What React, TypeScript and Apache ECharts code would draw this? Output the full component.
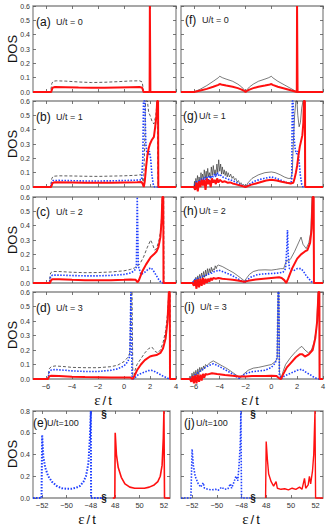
import React, { useEffect, useRef } from 'react';
import * as echarts from 'echarts';

// ---------- data (epsilon/t , DOS) ----------
const xTicks = [-6, -4, -2, 0, 2, 4];
const brokenTicks = [-52, -50, -48, 48, 50, 52];

const aBlack = [[-7,0],[-5.65,0],[-5.55,0.06],[-5.45,0.075],[-5.2,0.078],[-4.5,0.076],[-3.5,0.07],[-2.5,0.066],[-1.5,0.068],[-0.5,0.072],[0.5,0.077],[1.2,0.078],[1.4,0.07],[1.48,0.02],[1.52,0],[4,0]];
const aRed = [[-7,0],[-5.6,0],[-5.5,0.03],[-5.3,0.035],[-4.5,0.034],[-3.5,0.031],[-2.5,0.029],[-1.5,0.03],[-0.5,0.032],[0.5,0.034],[1.2,0.035],[1.4,0.03],[1.5,0],[1.97,0],[1.99,0.6],[2.01,0.6],[2.03,0],[4,0]];

const bBlack = [[-7,0],[-5.65,0],[-5.55,0.06],[-5.45,0.075],[-5,0.078],[-4,0.077],[-3,0.075],[-2,0.074],[-1,0.076],[0,0.078],[1,0.082],[1.3,0.086],[1.42,0.06],[1.5,0],[1.58,0.25],[1.66,0.6],[1.8,0.6],[1.9,0.52],[2.0,0.5],[2.15,0.46],[2.3,0.44],[2.45,0.5],[2.55,0.6],[2.62,0],[4,0]];
const bBlue = [[-7,0],[-5.65,0],[-5.55,0.035],[-5.45,0.045],[-5,0.046],[-4,0.044],[-3,0.042],[-2,0.042],[-1,0.043],[0,0.045],[1,0.048],[1.35,0.05],[1.45,0.2],[1.5,0.6],[1.6,0.6],[1.68,0.3],[1.76,0.24],[1.85,0.22],[1.95,0.25],[2.05,0.2],[2.15,0.08],[2.25,0.02],[2.35,0],[4,0]];
const bRed = [[-7,0],[-5.6,0],[-5.5,0.028],[-5.3,0.033],[-4,0.031],[-3,0.029],[-2,0.029],[-1,0.03],[0,0.032],[1,0.034],[1.35,0.035],[1.45,0.02],[1.52,0],[1.6,0.04],[1.7,0.14],[1.8,0.22],[1.9,0.27],[2.0,0.3],[2.15,0.33],[2.3,0.35],[2.4,0.42],[2.5,0.5],[2.55,0.6],[2.62,0.6],[2.64,0],[4,0]];

const cBlack = [[-7,0],[-5.75,0],[-5.65,0.07],[-5.5,0.08],[-5,0.08],[-4,0.075],[-3,0.072],[-2,0.073],[-1,0.077],[0,0.085],[0.5,0.095],[0.8,0.105],[1.0,0.12],[1.2,0.13],[1.5,0.18],[1.8,0.25],[2.05,0.3],[2.2,0.27],[2.35,0.23],[2.5,0.24],[2.7,0.3],[2.85,0.38],[2.95,0.6],[3.05,0.6],[3.07,0],[4,0]];
const cBlue = [[-7,0],[-5.75,0],[-5.65,0.045],[-5.5,0.055],[-5,0.055],[-4,0.052],[-3,0.05],[-2,0.05],[-1,0.053],[0,0.06],[0.5,0.07],[0.8,0.085],[0.95,0.11],[1.02,0.6],[1.06,0.6],[1.1,0.12],[1.3,0.06],[1.6,0.075],[1.9,0.1],[2.1,0.105],[2.3,0.08],[2.5,0.05],[2.7,0.02],[2.9,0],[4,0]];
const cRed = [[-7,0],[-5.7,0],[-5.6,0.02],[-5.5,0.027],[-5,0.027],[-4,0.022],[-3,0.02],[-2,0.019],[-1,0.02],[0,0.022],[0.5,0.024],[0.9,0.022],[1.05,0.005],[1.15,0.02],[1.4,0.08],[1.7,0.13],[2.05,0.18],[2.3,0.2],[2.5,0.22],[2.65,0.25],[2.8,0.32],[2.9,0.45],[2.95,0.6],[3.02,0.6],[3.04,0],[4,0]];

const dBlack = [[-7,0],[-5.85,0],[-5.75,0.07],[-5.6,0.085],[-5.3,0.09],[-4.5,0.085],[-4,0.08],[-3,0.078],[-2,0.078],[-1,0.085],[-0.5,0.095],[0,0.12],[0.3,0.15],[0.45,0.18],[0.55,0.6],[0.62,0.6],[0.68,0.02],[0.75,0],[0.85,0.06],[1.0,0.1],[1.3,0.14],[1.6,0.18],[1.9,0.21],[2.15,0.22],[2.4,0.19],[2.6,0.18],[2.8,0.2],[3.0,0.25],[3.2,0.33],[3.35,0.45],[3.45,0.6],[3.55,0.6],[3.57,0],[4,0]];
const dBlue = [[-7,0],[-5.85,0],[-5.75,0.05],[-5.6,0.062],[-5.3,0.065],[-4.5,0.06],[-4,0.056],[-3,0.052],[-2,0.052],[-1,0.06],[-0.5,0.07],[0,0.09],[0.3,0.12],[0.45,0.16],[0.53,0.6],[0.58,0.6],[0.62,0.02],[0.7,0],[0.85,0.01],[1.1,0.03],[1.5,0.045],[1.9,0.058],[2.1,0.06],[2.4,0.05],[2.7,0.035],[3.0,0.02],[3.3,0.008],[3.5,0],[4,0]];
const dRed = [[-7,0],[-5.85,0],[-5.75,0.018],[-5.6,0.022],[-5,0.02],[-4,0.016],[-3,0.013],[-2,0.012],[-1,0.01],[0,0.01],[0.5,0.01],[0.65,0],[0.8,0.02],[1.0,0.06],[1.3,0.1],[1.6,0.13],[2.0,0.155],[2.2,0.16],[2.5,0.165],[2.8,0.18],[3.0,0.21],[3.2,0.28],[3.35,0.4],[3.45,0.6],[3.52,0.6],[3.54,0],[4,0]];

const fBlack = [[-7,0],[-6,0],[-5.5,0.02],[-5,0.045],[-4.5,0.075],[-4.1,0.1],[-4,0.11],[-3.8,0.1],[-3.5,0.09],[-3,0.075],[-2.6,0.055],[-2.3,0.035],[-2.1,0.015],[-2,0],[-1.9,0.015],[-1.7,0.035],[-1.4,0.055],[-1,0.075],[-0.5,0.09],[-0.2,0.1],[0,0.11],[0.1,0.1],[0.5,0.075],[1,0.05],[1.5,0.025],[2,0],[4,0]];
const fRed = [[-7,0],[-6,0],[-5.5,0.01],[-5,0.022],[-4.5,0.037],[-4.1,0.05],[-4,0.056],[-3.8,0.05],[-3.5,0.045],[-3,0.037],[-2.6,0.027],[-2.3,0.017],[-2.1,0.007],[-2,0],[-1.9,0.007],[-1.7,0.017],[-1.4,0.027],[-1,0.037],[-0.5,0.045],[-0.2,0.05],[0,0.056],[0.1,0.05],[0.5,0.037],[1,0.025],[1.5,0.012],[1.97,0],[1.99,0.6],[2.01,0.6],[2.03,0],[4,0]];

const gBlack = [[-7,0],[-6.0,0],[-5.95,0.04],[-5.9,-0.01],[-5.85,0.06],[-5.8,0.01],[-5.72,0.08],[-5.65,0.02],[-5.6,0.07],[-5.52,0.03],[-5.45,0.1],[-5.4,0.04],[-5.33,0.09],[-5.25,0.05],[-5.2,0.12],[-5.12,0.06],[-5.05,0.11],[-5.0,0.05],[-4.93,0.13],[-4.86,0.07],[-4.8,0.1],[-4.72,0.06],[-4.65,0.14],[-4.58,0.08],[-4.5,0.15],[-4.43,0.09],[-4.36,0.12],[-4.3,0.08],[-4.22,0.16],[-4.15,0.1],[-4.08,0.19],[-4.0,0.11],[-3.93,0.16],[-3.86,0.09],[-3.8,0.14],[-3.72,0.09],[-3.65,0.12],[-3.58,0.08],[-3.5,0.11],[-3.42,0.07],[-3.35,0.1],[-3.25,0.07],[-3.15,0.09],[-3.05,0.06],[-2.95,0.075],[-2.85,0.05],[-2.75,0.06],[-2.65,0.035],[-2.55,0.045],[-2.45,0.02],[-2.35,0.03],[-2.25,0.012],[-2.15,0.018],[-2.0,0],[-1.8,0.03],[-1.5,0.06],[-1.0,0.085],[-0.5,0.1],[0,0.105],[0.3,0.1],[0.7,0.085],[1.0,0.07],[1.3,0.06],[1.5,0.06],[1.62,0.1],[1.7,0.3],[1.8,0.5],[1.9,0.6],[1.98,0.6],[2.05,0.5],[2.15,0.42],[2.25,0.45],[2.35,0.55],[2.45,0.6],[2.55,0.6],[2.6,0],[4,0]];
const gBlue = [[-7,0],[-6.0,0],[-5.9,0.02],[-5.8,0.04],[-5.7,0.02],[-5.6,0.05],[-5.5,0.03],[-5.4,0.06],[-5.3,0.04],[-5.2,0.07],[-5.1,0.05],[-5.0,0.07],[-4.9,0.05],[-4.8,0.08],[-4.7,0.06],[-4.6,0.08],[-4.5,0.07],[-4.4,0.09],[-4.3,0.07],[-4.2,0.1],[-4.1,0.08],[-4.0,0.09],[-3.8,0.07],[-3.6,0.065],[-3.4,0.055],[-3.2,0.05],[-3.0,0.045],[-2.8,0.035],[-2.6,0.025],[-2.4,0.015],[-2.2,0.008],[-2.0,0],[-1.7,0.02],[-1.3,0.04],[-0.8,0.055],[-0.3,0.065],[0,0.07],[0.4,0.06],[0.8,0.045],[1.2,0.03],[1.5,0.025],[1.58,0.05],[1.62,0.6],[1.68,0.6],[1.75,0.35],[1.85,0.26],[1.95,0.23],[2.05,0.25],[2.15,0.18],[2.25,0.08],[2.35,0.02],[2.45,0],[4,0]];
const gRed = [[-7,0],[-6.0,0],[-5.9,-0.02],[-5.8,0.03],[-5.7,-0.03],[-5.6,0.04],[-5.5,0],[-5.4,0.05],[-5.3,0.01],[-5.2,0.05],[-5.1,-0.02],[-5.0,0.06],[-4.9,0.02],[-4.8,0.05],[-4.7,0],[-4.6,0.06],[-4.5,0.03],[-4.4,0.05],[-4.3,0.02],[-4.2,0.06],[-4.1,0.03],[-4.0,0.05],[-3.8,0.035],[-3.6,0.04],[-3.4,0.03],[-3.2,0.032],[-3.0,0.025],[-2.8,0.02],[-2.6,0.015],[-2.4,0.01],[-2.2,0.005],[-2.0,0],[-1.6,0.015],[-1.2,0.025],[-0.8,0.035],[-0.4,0.045],[0,0.05],[0.4,0.045],[0.8,0.037],[1.2,0.03],[1.5,0.025],[1.7,0.03],[1.8,0.06],[1.9,0.1],[2.0,0.15],[2.1,0.22],[2.2,0.28],[2.3,0.32],[2.4,0.36],[2.48,0.45],[2.52,0.6],[2.6,0.6],[2.62,0],[4,0]];

const hBlack = [[-7,0],[-6.1,0],[-6.0,0.02],[-5.93,0],[-5.85,0.04],[-5.78,0.01],[-5.7,0.05],[-5.62,0.02],[-5.55,0.06],[-5.47,0.03],[-5.4,0.07],[-5.32,0.03],[-5.25,0.08],[-5.17,0.04],[-5.1,0.09],[-5.02,0.05],[-4.95,0.1],[-4.87,0.06],[-4.8,0.1],[-4.72,0.07],[-4.65,0.11],[-4.57,0.08],[-4.5,0.1],[-4.42,0.09],[-4.35,0.12],[-4.27,0.1],[-4.2,0.12],[-4.1,0.125],[-3.8,0.115],[-3.5,0.1],[-3.2,0.085],[-2.9,0.07],[-2.6,0.05],[-2.3,0.03],[-2.1,0.015],[-1.95,0.03],[-1.7,0.06],[-1.4,0.08],[-1.0,0.09],[-0.5,0.092],[0,0.09],[0.4,0.095],[0.7,0.1],[0.95,0.1],[1.1,0.14],[1.2,0.16],[1.3,0.15],[1.5,0.17],[1.8,0.22],[2.1,0.28],[2.3,0.32],[2.45,0.27],[2.7,0.24],[2.9,0.28],[3.05,0.35],[3.15,0.6],[3.25,0.6],[3.27,0],[4,0]];
const hBlue = [[-7,0],[-6.1,0],[-6.0,0.02],[-5.8,0.03],[-5.6,0.035],[-5.4,0.045],[-5.2,0.05],[-5.0,0.055],[-4.8,0.065],[-4.6,0.07],[-4.4,0.08],[-4.2,0.085],[-4.1,0.09],[-3.8,0.08],[-3.5,0.07],[-3.2,0.06],[-2.9,0.045],[-2.6,0.03],[-2.3,0.015],[-2.1,0.005],[-1.9,0.02],[-1.6,0.04],[-1.2,0.055],[-0.8,0.062],[-0.3,0.065],[0.2,0.067],[0.6,0.07],[0.9,0.075],[1.1,0.1],[1.2,0.25],[1.25,0.37],[1.3,0.2],[1.4,0.1],[1.7,0.085],[2.0,0.1],[2.3,0.1],[2.5,0.08],[2.7,0.05],[2.9,0.03],[3.1,0.01],[3.25,0],[4,0]];
const hRed = [[-7,0],[-6.1,0],[-6.0,-0.02],[-5.9,0.02],[-5.8,-0.04],[-5.7,0.025],[-5.6,-0.03],[-5.5,0.03],[-5.4,-0.02],[-5.3,0.035],[-5.2,-0.01],[-5.1,0.03],[-5.0,0],[-4.9,0.03],[-4.8,0.01],[-4.7,0.035],[-4.6,0.02],[-4.5,0.035],[-4.3,0.03],[-4.1,0.035],[-3.8,0.03],[-3.5,0.027],[-3.0,0.022],[-2.5,0.015],[-2.1,0.008],[-1.8,0.015],[-1.2,0.025],[-0.6,0.03],[0,0.035],[0.6,0.04],[0.8,0.035],[1.0,0.02],[1.15,0],[1.3,0.03],[1.6,0.1],[2.0,0.17],[2.3,0.2],[2.6,0.22],[2.8,0.23],[3.0,0.28],[3.12,0.38],[3.2,0.6],[3.28,0.6],[3.3,0],[4,0]];

const iBlack = [[-7,0],[-6.4,0],[-6.3,0.02],[-6.22,0],[-6.15,0.04],[-6.07,0.01],[-6.0,0.05],[-5.92,0.02],[-5.85,0.06],[-5.77,0.02],[-5.7,0.07],[-5.62,0.03],[-5.55,0.08],[-5.47,0.05],[-5.4,0.08],[-5.32,0.06],[-5.25,0.09],[-5.17,0.07],[-5.1,0.1],[-5.0,0.09],[-4.8,0.11],[-4.5,0.125],[-4.2,0.11],[-3.8,0.09],[-3.4,0.07],[-3.0,0.045],[-2.6,0.02],[-2.45,0.005],[-2.2,0.03],[-1.8,0.06],[-1.4,0.075],[-1.0,0.08],[-0.5,0.09],[0,0.1],[0.3,0.12],[0.45,0.14],[0.52,0.6],[0.58,0.6],[0.62,0.05],[0.75,0],[0.9,0.05],[1.1,0.1],[1.5,0.15],[1.9,0.19],[2.2,0.215],[2.36,0.225],[2.6,0.2],[2.87,0.18],[3.1,0.2],[3.3,0.25],[3.5,0.35],[3.62,0.6],[3.7,0.6],[3.72,0],[4,0]];
const iBlue = [[-7,0],[-6.3,0],[-6.2,0.01],[-6.0,0.02],[-5.8,0.035],[-5.6,0.05],[-5.4,0.06],[-5.2,0.075],[-5.0,0.085],[-4.8,0.095],[-4.5,0.105],[-4.2,0.095],[-3.8,0.075],[-3.4,0.055],[-3.0,0.035],[-2.7,0.015],[-2.5,0.005],[-2.3,0.02],[-1.9,0.04],[-1.5,0.05],[-1.0,0.055],[-0.5,0.06],[0,0.08],[0.3,0.11],[0.45,0.15],[0.52,0.6],[0.58,0.6],[0.62,0.03],[0.75,0],[1.0,0.02],[1.5,0.04],[2.0,0.06],[2.36,0.067],[2.7,0.045],[3.0,0.03],[3.3,0.012],[3.6,0],[4,0]];
const iRed = [[-7,0],[-6.3,0],[-6.2,-0.02],[-6.1,0.02],[-6.0,-0.03],[-5.9,0.025],[-5.8,-0.03],[-5.7,0.03],[-5.6,-0.02],[-5.5,0.03],[-5.4,-0.01],[-5.3,0.035],[-5.2,0.01],[-5.1,0.035],[-5.0,0.03],[-4.6,0.04],[-4.2,0.035],[-3.6,0.028],[-3.0,0.022],[-2.5,0.018],[-2.0,0.018],[-1.5,0.02],[-1.0,0.02],[-0.5,0.02],[0,0.022],[0.4,0.02],[0.6,0.005],[0.75,0],[0.9,0.03],[1.2,0.08],[1.5,0.11],[1.9,0.15],[2.2,0.17],[2.4,0.17],[2.6,0.155],[2.9,0.17],[3.2,0.2],[3.4,0.28],[3.55,0.4],[3.65,0.6],[3.72,0.6],[3.74,0],[4,0]];

const eBlue = [[-52.75,0],[-52.05,0],[-52,0.58],[-51.9,0.38],[-51.75,0.28],[-51.5,0.2],[-51.2,0.15],[-50.8,0.11],[-50.4,0.09],[-50,0.085],[-49.6,0.085],[-49.2,0.095],[-48.9,0.11],[-48.6,0.15],[-48.4,0.2],[-48.2,0.32],[-48.08,0.55],[-48,0.8],[-47.98,0],[-46.95,0]];
const eRed = [[47.8,0],[47.97,0],[48,0.6],[48.1,0.4],[48.25,0.28],[48.5,0.19],[48.8,0.13],[49.2,0.1],[49.6,0.09],[50,0.09],[50.4,0.09],[50.8,0.1],[51.2,0.12],[51.5,0.15],[51.7,0.2],[51.85,0.3],[51.95,0.55],[52,0.8],[52.05,0],[52.5,0]];
const jBlue = [[-52.9,0],[-52.1,0],[-52,0.45],[-51.9,0.3],[-51.75,0.2],[-51.5,0.13],[-51.3,0.1],[-51.1,0.14],[-51.0,0.09],[-50.7,0.08],[-50.4,0.075],[-50.1,0.08],[-49.9,0.07],[-49.6,0.1],[-49.4,0.08],[-49.1,0.085],[-48.9,0.13],[-48.8,0.09],[-48.6,0.15],[-48.45,0.2],[-48.3,0.16],[-48.2,0.3],[-48.1,0.5],[-48.05,0.8],[-48,0],[-47.1,0]];
const jRed = [[47.95,0],[48,0.52],[48.1,0.35],[48.2,0.22],[48.4,0.15],[48.6,0.11],[48.8,0.15],[48.9,0.09],[49.2,0.08],[49.5,0.085],[49.8,0.075],[50.1,0.09],[50.4,0.08],[50.7,0.1],[50.9,0.08],[51.1,0.18],[51.2,0.09],[51.4,0.12],[51.5,0.2],[51.6,0.13],[51.75,0.25],[51.85,0.4],[51.95,0.8],[52,0],[52.6,0]];

// ---------- helpers ----------
const FONT = "'Liberation Sans', Arial, Helvetica, sans-serif";
const toU = (e: number) => (e < 0 ? e + 50 : e - 44);
const fmtNum = (v: number) => (v < 0 ? '\u2212' + Math.abs(v) : String(v));

type Panel = {
  left: number; top: number; width: number; height: number;
  broken?: boolean; xmin: number; xmax: number; ymax: number; yStep: number;
  yLabels: boolean; xLabels: boolean; dashed: boolean;
  black?: number[][]; blue?: number[][]; red?: number[][];
  blueW?: number; redW?: number;
};

const L = 33, LW = 143, R = 181, RW = 142, H = 86;
const tops = [6, 101, 197, 292];

const panels: Panel[] = [
  { left: L, top: tops[0], width: LW, height: H, xmin: -7, xmax: 4, ymax: 0.6, yStep: 0.1, yLabels: true, xLabels: false, dashed: true, black: aBlack, red: aRed },
  { left: L, top: tops[1], width: LW, height: H, xmin: -7, xmax: 4, ymax: 0.6, yStep: 0.1, yLabels: true, xLabels: false, dashed: true, black: bBlack, blue: bBlue, red: bRed },
  { left: L, top: tops[2], width: LW, height: H, xmin: -7, xmax: 4, ymax: 0.6, yStep: 0.1, yLabels: true, xLabels: false, dashed: true, black: cBlack, blue: cBlue, red: cRed },
  { left: L, top: tops[3], width: LW, height: H + 1, xmin: -7, xmax: 4, ymax: 0.6, yStep: 0.1, yLabels: true, xLabels: true, dashed: true, black: dBlack, blue: dBlue, red: dRed },
  { left: L, top: 411, width: 137, height: 87, broken: true, xmin: -2.75, xmax: 8.5, ymax: 0.8, yStep: 0.2, yLabels: true, xLabels: true, dashed: false, blue: eBlue, red: eRed, blueW: 2, redW: 1.6 },
  { left: R, top: tops[0], width: RW, height: H, xmin: -7, xmax: 4, ymax: 0.6, yStep: 0.1, yLabels: false, xLabels: false, dashed: false, black: fBlack, red: fRed },
  { left: R, top: tops[1], width: RW, height: H, xmin: -7, xmax: 4, ymax: 0.6, yStep: 0.1, yLabels: false, xLabels: false, dashed: false, black: gBlack, blue: gBlue, red: gRed },
  { left: R, top: tops[2], width: RW, height: H, xmin: -7, xmax: 4, ymax: 0.6, yStep: 0.1, yLabels: false, xLabels: false, dashed: false, black: hBlack, blue: hBlue, red: hRed },
  { left: R, top: tops[3], width: RW, height: H + 1, xmin: -7, xmax: 4, ymax: 0.6, yStep: 0.1, yLabels: false, xLabels: true, dashed: false, black: iBlack, blue: iBlue, red: iRed },
  { left: R, top: 411, width: RW, height: 87, broken: true, xmin: -2.9, xmax: 8.6, ymax: 0.8, yStep: 0.2, yLabels: false, xLabels: true, dashed: false, blue: jBlue, red: jRed, blueW: 1.6, redW: 1.4 },
];

const panelTexts = [
  { t: '(a)', u: 'U/t = 0', x: 36, y: 22, ux: 56 },
  { t: '(b)', u: 'U/t = 1', x: 36, y: 117, ux: 56 },
  { t: '(c)', u: 'U/t = 2', x: 36, y: 212, ux: 56 },
  { t: '(d)', u: 'U/t = 3', x: 36, y: 308, ux: 56 },
  { t: '(e)', u: 'U/t=100', x: 33, y: 423, ux: 47 },
  { t: '(f)', u: 'U/t = 0', x: 185, y: 20, ux: 202 },
  { t: '(g)', u: 'U/t = 1', x: 183, y: 116, ux: 199 },
  { t: '(h)', u: 'U/t = 2', x: 183, y: 211, ux: 199 },
  { t: '(i)', u: 'U/t = 3', x: 184, y: 307, ux: 200 },
  { t: '(j)', u: 'U/t=100', x: 184, y: 423, ux: 196 },
];

function buildOption() {
  const grid: any[] = [];
  const xAxis: any[] = [];
  const yAxis: any[] = [];
  const series: any[] = [];
  panels.forEach((p, i) => {
    grid.push({ left: p.left, top: p.top, width: p.width, height: p.height, show: true, borderColor: '#8a8a8a', borderWidth: 1.3, backgroundColor: 'transparent' });
    const xt = p.broken ? brokenTicks.map(toU) : xTicks;
    const xfmt = p.broken ? (v: number) => fmtNum(v < 3 ? Math.round(v - 50) : Math.round(v + 44)) : (v: number) => fmtNum(v);
    const tickStyle = { show: true, inside: true, length: 3, lineStyle: { color: '#555', width: 0.8 }, customValues: xt };
    const line = { show: false, onZero: false };
    xAxis.push({ type: 'value', gridIndex: i, min: p.xmin, max: p.xmax, position: 'bottom', axisLine: line, splitLine: { show: false }, axisTick: tickStyle,
      axisLabel: { show: p.xLabels, customValues: xt, formatter: xfmt, fontSize: 7.5, color: '#333', margin: 3, fontFamily: FONT, showMinLabel: true, showMaxLabel: true } });
    xAxis.push({ type: 'value', gridIndex: i, min: p.xmin, max: p.xmax, position: 'top', axisLine: line, splitLine: { show: false }, axisTick: tickStyle, axisLabel: { show: false } });
    const yTick = { show: true, inside: true, length: 3, lineStyle: { color: '#555', width: 0.8 } };
    yAxis.push({ type: 'value', gridIndex: i, min: 0, max: p.ymax, interval: p.yStep, position: 'left', axisLine: line, splitLine: { show: false }, axisTick: yTick,
      axisLabel: { show: p.yLabels, formatter: (v: number) => v.toFixed(1), fontSize: 7, color: '#333', margin: 3, fontFamily: FONT } });
    yAxis.push({ type: 'value', gridIndex: i, min: 0, max: p.ymax, interval: p.yStep, position: 'right', axisLine: line, splitLine: { show: false }, axisTick: yTick, axisLabel: { show: false } });
    const conv = (d: number[][]) => (p.broken ? d.map(([e, v]) => [toU(e), v]) : d);
    const base = { type: 'line', xAxisIndex: 2 * i, yAxisIndex: 2 * i, showSymbol: false, symbol: 'none', clip: false, silent: true, animation: false };
    if (p.black) series.push({ ...base, data: conv(p.black), z: 2, lineStyle: { color: p.dashed ? '#333' : '#222', width: p.dashed ? 0.8 : 0.6, type: p.dashed ? [3, 2] : 'solid' } });
    if (p.blue) series.push({ ...base, data: conv(p.blue), z: 3, lineStyle: { color: '#1f3fff', width: p.blueW ?? 1.6, type: [1.5, 1.5] } });
    if (p.red) series.push({ ...base, data: conv(p.red), z: 4, lineStyle: { color: '#ff1010', width: p.redW ?? 2 } });
  });

  const graphic: any[] = [];
  panelTexts.forEach((t) => {
    graphic.push({ type: 'text', x: t.x, y: t.y, style: { text: t.t, fontSize: 12, fontFamily: FONT, fill: '#111', verticalAlign: 'middle', align: 'left' } });
    graphic.push({ type: 'text', x: t.ux, y: t.y, style: { text: t.u, fontSize: 9, fontFamily: FONT, fill: '#222', verticalAlign: 'middle', align: 'left' } });
  });
  [49, 144, 240, 335, 454].forEach((y) => {
    graphic.push({ type: 'text', x: 12, y, rotation: Math.PI / 2, style: { text: 'DOS', fontSize: 13, fontFamily: FONT, fill: '#111', align: 'center', verticalAlign: 'middle' } });
  });
  [[103, 400], [250, 400], [87, 519], [251, 519]].forEach(([x, y]) => {
    graphic.push({ type: 'text', x, y, style: { text: '{e|\u03b5}{s|/}{t|t}', align: 'center', verticalAlign: 'middle',
      rich: { e: { fontSize: 15, fontFamily: "'Liberation Serif', serif", fill: '#111' }, s: { fontSize: 13, fontFamily: FONT, fill: '#111', padding: [0, 2, 0, 2] }, t: { fontSize: 13, fontFamily: FONT, fill: '#111' } } } });
  });
  [[104, 414], [104, 498], [253, 414], [253, 498]].forEach(([x, y]) => {
    graphic.push({ type: 'text', x, y, style: { text: '\u00a7', fontSize: 10, fontWeight: 'bold', fontFamily: FONT, fill: '#111', align: 'center', verticalAlign: 'middle' } });
  });

  return { animation: false, backgroundColor: '#ffffff', grid, xAxis, yAxis, series, graphic };
}

export default function App() {
  const ref = useRef<HTMLDivElement>(null);
  useEffect(() => {
    if (!ref.current) return;
    const chart = echarts.init(ref.current, undefined, { renderer: 'svg' });
    chart.setOption(buildOption() as any);
    return () => chart.dispose();
  }, []);
  return <div ref={ref} style={{ position: 'fixed', left: 0, top: 0, width: 332, height: 527, background: '#fff' }} />;
}
